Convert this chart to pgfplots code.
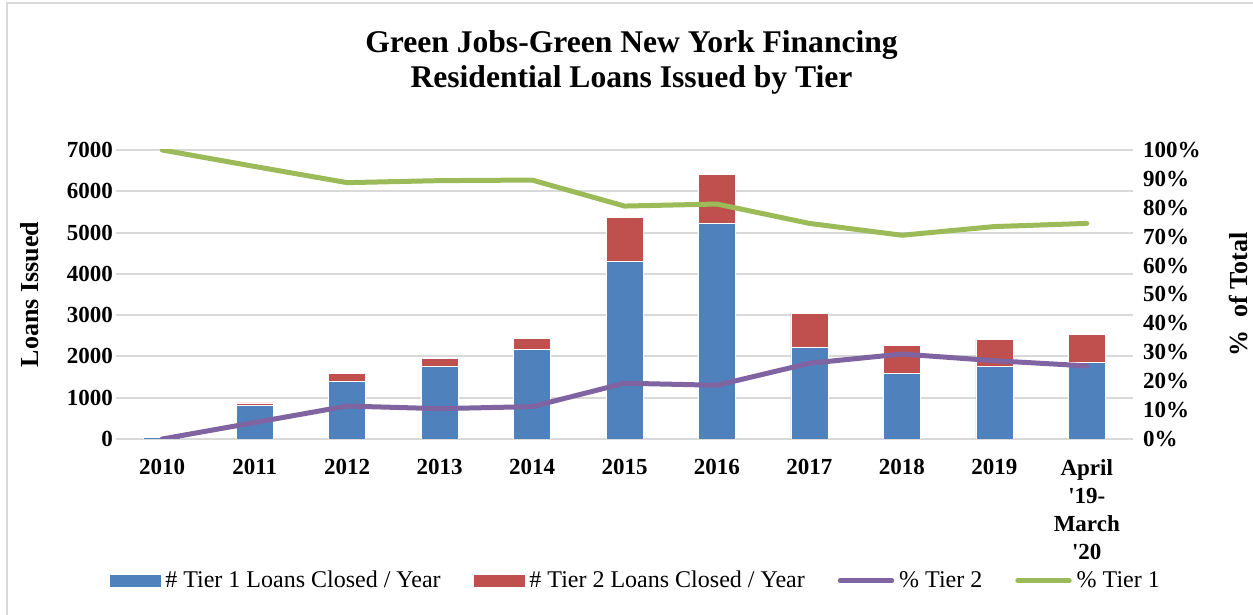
\documentclass[border=0pt]{standalone}
\usepackage{fontspec}
\setmainfont{Liberation Serif}
\usepackage{pgfplots}
\pgfplotsset{compat=1.18}
\definecolor{cTa}{HTML}{4F81BD}
\definecolor{cTb}{HTML}{C0504D}
\definecolor{cPu}{HTML}{8064A2}
\definecolor{cGr}{HTML}{9BBB59}
\definecolor{gridgray}{HTML}{D9D9D9}
\begin{document}
\begin{tikzpicture}
\useasboundingbox (0pt,0pt) rectangle (626.5pt,307.5pt);
\draw[gridgray, line width=0.8pt] (3.5pt,0pt) -- (3.5pt,306pt) -- (626.5pt,306pt);
\node[font=\bfseries\fontsize{15.8}{17.5}\selectfont, align=center] at (315.75pt,276.25pt)
  {Green Jobs-Green New York Financing\\Residential Loans Issued by Tier};
\begin{axis}[
  scale only axis, width=508.5pt, height=144.5pt,
  at={(58pt,88pt)}, anchor=south west,
  xmin=-0.5, xmax=10.5, ymin=0, ymax=7000,
  ybar stacked, bar width=0.4,
  xtick={0,1,...,10},
  xticklabels={2010,2011,2012,2013,2014,2015,2016,2017,2018,2019,{April\\\textquotesingle19-\\March\\\textquotesingle20}},
  ytick={0,1000,...,7000},
  yticklabels={0,1000,2000,3000,4000,5000,6000,7000},
  ymajorgrids, major grid style={draw=gridgray, line width=1pt},
  axis line style={draw=none}, major tick length=0pt,
  xticklabel style={font=\bfseries\fontsize{11.5}{14}\selectfont, align=center, anchor=north, yshift=-6.5pt},
  yticklabel style={font=\bfseries\fontsize{11.5}{14}\selectfont, anchor=east, xshift=2pt},
  ylabel={Loans Issued},
  ylabel style={at={(axis description cs:-0.0846,0.5)}, anchor=center, rotate=0, font=\bfseries\fontsize{13}{15}\selectfont},
]
\addplot[fill=cTa, draw=white, line width=0.3pt] coordinates {
 (0,40) (1,820) (2,1387) (3,1751) (4,2172) (5,4293) (6,5213) (7,2220) (8,1598) (9,1751) (10,1857)};
\addplot[fill=cTb, draw=white, line width=0.3pt] coordinates {
 (0,0) (1,55) (2,211) (3,210) (4,257) (5,1075) (6,1196) (7,823) (8,670) (9,670) (10,678)};
\end{axis}
\begin{axis}[
  scale only axis, width=508.5pt, height=144.5pt,
  at={(58pt,88pt)}, anchor=south west,
  xmin=-0.5, xmax=10.5, ymin=0, ymax=100,
  axis y line*=right, axis x line=none,
  axis line style={draw=none}, major tick length=0pt,
  ytick={0,10,...,100},
  yticklabels={0\%,10\%,20\%,30\%,40\%,50\%,60\%,70\%,80\%,90\%,100\%},
  yticklabel style={font=\bfseries\fontsize{11.5}{14}\selectfont, anchor=west, xshift=1.5pt},
  ylabel={\%\ \ of Total},
  ylabel style={at={(axis description cs:1.1033,0.5)}, anchor=center, rotate=0, font=\bfseries\fontsize{13}{15}\selectfont},
  legend columns=4,
  legend style={at={(axis description cs:0.511,-0.49)}, anchor=center, draw=none, fill=none,
    font=\fontsize{12}{13}\selectfont, nodes={inner sep=1pt},
    /tikz/every odd column/.append style={column sep=1.5pt},
    /tikz/every even column/.append style={column sep=15.5pt}},
]
\addlegendimage{legend image code/.code={\fill[cTa] (0pt,-2.75pt) rectangle (25pt,2.75pt);}}
\addlegendentry{\# Tier 1 Loans Closed / Year}
\addlegendimage{legend image code/.code={\fill[cTb] (0pt,-2.75pt) rectangle (25pt,2.75pt);}}
\addlegendentry{\# Tier 2 Loans Closed / Year}
\addplot[cPu, line width=2.5pt, line cap=round, line join=round,
  legend image code/.code={\draw[cPu, line width=2.2pt, line cap=round] (0pt,0pt) -- (26pt,0pt);}] coordinates {
 (0,0) (1,5.7) (2,11.4) (3,10.5) (4,11.2) (5,19.3) (6,18.6) (7,26.2) (8,29.4) (9,27.1) (10,25.3)};
\addlegendentry{\% Tier 2}
\addplot[cGr, line width=2.5pt, line cap=round, line join=round,
  legend image code/.code={\draw[cGr, line width=2.2pt, line cap=round] (0pt,0pt) -- (26pt,0pt);}] coordinates {
 (0,100) (1,94.3) (2,88.7) (3,89.4) (4,89.6) (5,80.6) (6,81.3) (7,74.6) (8,70.5) (9,73.5) (10,74.6)};
\addlegendentry{\% Tier 1}
\end{axis}
\end{tikzpicture}
\end{document}
